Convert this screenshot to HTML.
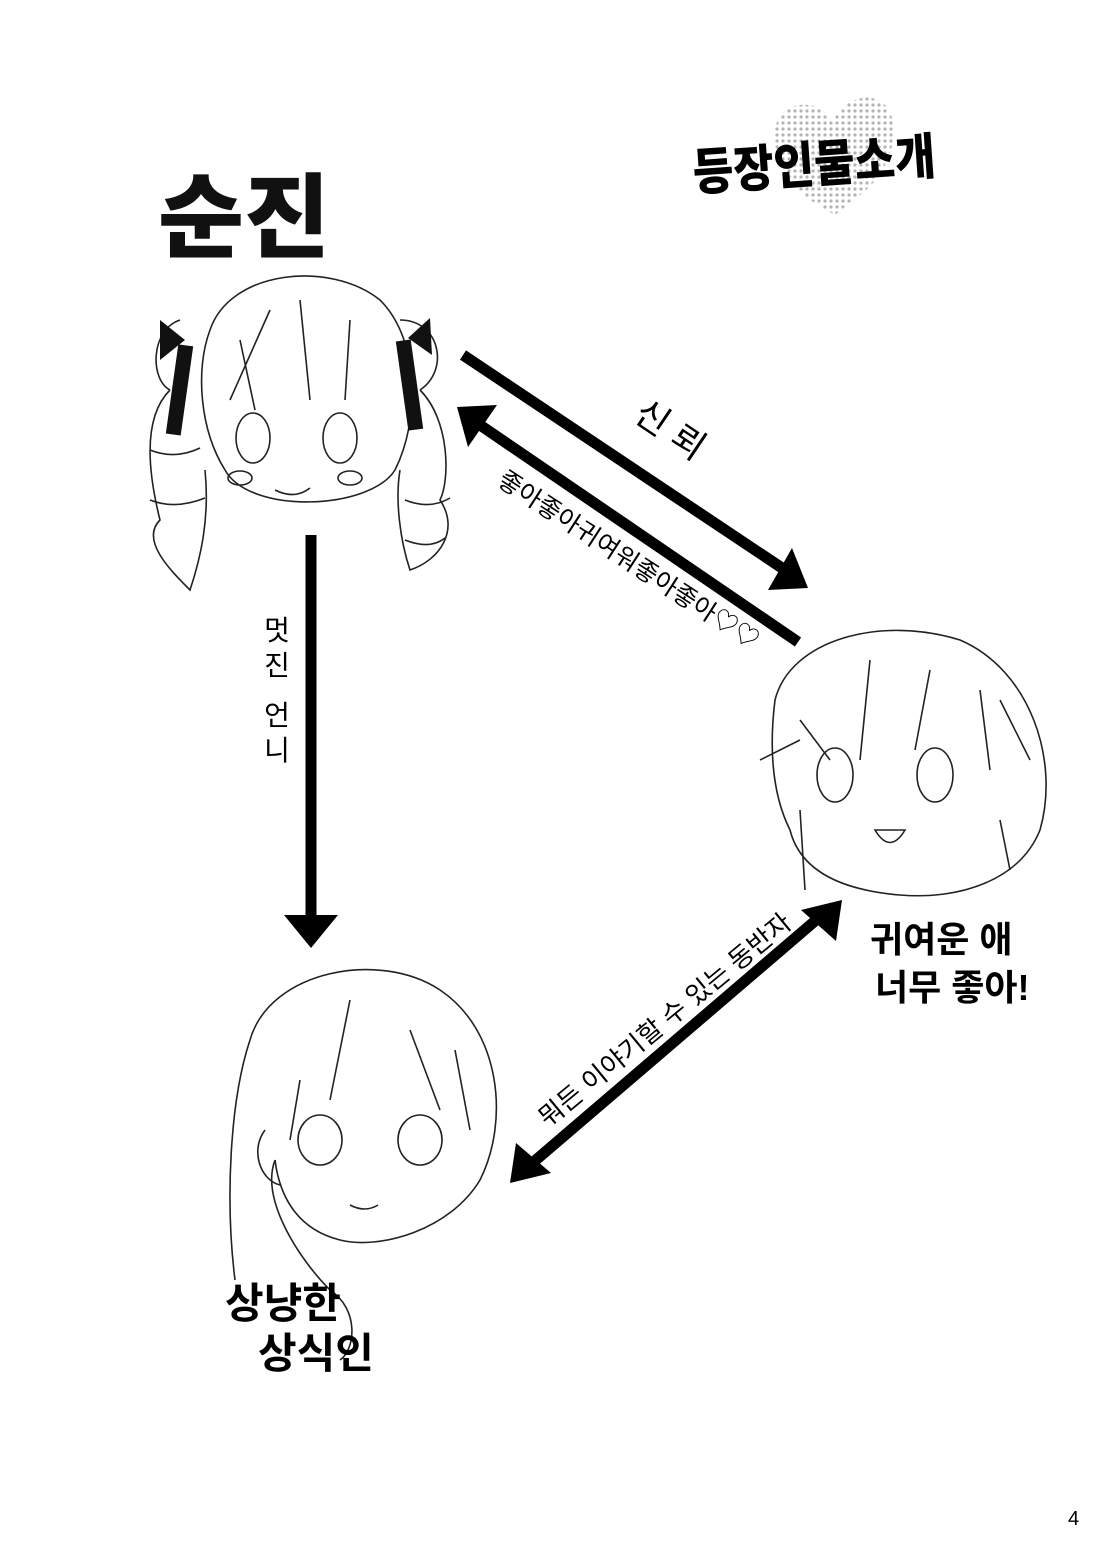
<!DOCTYPE html>
<html><head><meta charset="utf-8">
<style>
html,body{margin:0;padding:0;background:#fff;}
body{width:1110px;height:1553px;overflow:hidden;position:relative;font-family:"Liberation Sans","Noto Sans CJK KR","NanumGothic",sans-serif;}
svg{position:absolute;left:0;top:0;}
</style></head><body>
<svg width="1110" height="1553" viewBox="0 0 1110 1553" font-family="Liberation Sans,'Noto Sans CJK KR',sans-serif">
<defs>
<pattern id="dots" width="6" height="6" patternUnits="userSpaceOnUse"><circle cx="3" cy="3" r="1.6" fill="#777"/></pattern>
</defs>
<!-- heart behind title -->
<path d="M810 200 C770 170 760 110 800 105 C820 103 828 115 832 122 C838 112 850 95 872 98 C905 105 900 165 860 195 L835 215 Z" fill="url(#dots)" opacity="0.55"/>
<text x="692" y="182" font-size="50" font-weight="900" textLength="243" lengthAdjust="spacingAndGlyphs" transform="rotate(-4 815 155)">등장인물소개</text>
<text x="158" y="250" font-size="92" font-weight="900" textLength="172" lengthAdjust="spacingAndGlyphs" fill="#111">순진</text>

<!-- Head 1 (twin drills) -->
<g fill="none" stroke="#222" stroke-width="1.6">
<path d="M210 330 C230 270 330 260 380 300 C420 340 420 420 395 470 C370 510 250 515 225 470 C200 430 195 370 210 330Z"/>
<ellipse cx="253" cy="438" rx="17" ry="25"/><ellipse cx="340" cy="438" rx="17" ry="25"/>
<path d="M275 490 Q295 500 310 488"/>
<ellipse cx="240" cy="478" rx="12" ry="7"/><ellipse cx="350" cy="478" rx="12" ry="7"/>
<path d="M240 340 L255 410 M300 300 L310 400 M350 320 L345 400 M270 310 L230 400"/>
<path d="M180 320 C150 330 150 380 170 390 M400 320 C440 320 450 370 420 390"/>
<path d="M170 390 C140 420 150 480 160 520 C140 540 170 570 190 590 C200 560 210 520 205 470"/>
<path d="M420 390 C450 420 450 480 440 500 C460 530 440 560 410 570 C400 540 395 500 400 470"/>
<path d="M150 450 Q175 460 200 448 M150 500 Q175 510 205 498 M405 500 Q430 510 450 498 M405 540 Q430 550 445 538"/>
</g>
<rect x="172" y="345" width="15" height="90" fill="#111" transform="rotate(8 180 390)"/>
<rect x="402" y="340" width="15" height="90" fill="#111" transform="rotate(-8 410 385)"/>
<path d="M160 320 L185 340 L160 360 Z M430 318 L408 338 L432 355Z" fill="#111"/>

<!-- Head 2 (short hair) -->
<g fill="none" stroke="#222" stroke-width="1.6">
<path d="M775 700 C790 640 880 615 960 640 C1030 670 1060 760 1040 830 C1020 880 960 900 900 895 C840 890 800 870 790 830 C770 790 770 740 775 700Z"/>
<ellipse cx="835" cy="775" rx="18" ry="27"/><ellipse cx="935" cy="775" rx="18" ry="27"/>
<path d="M875 830 Q890 855 905 830 Z"/>
<path d="M800 720 L830 760 M870 660 L860 760 M930 670 L915 750 M980 690 L990 770 M1000 700 L1030 760 M760 760 L800 740"/>
<path d="M800 810 L805 890 M1000 820 L1010 870"/>
</g>

<!-- Head 3 (long hair) -->
<g fill="none" stroke="#222" stroke-width="1.6">
<path d="M250 1040 C270 970 380 950 440 990 C500 1030 510 1120 480 1180 C450 1230 380 1250 340 1240 C300 1230 280 1200 275 1160"/>
<path d="M250 1040 C230 1100 225 1200 235 1280 M275 1160 C260 1200 300 1260 330 1290 C360 1310 355 1350 340 1360"/>
<ellipse cx="320" cy="1140" rx="22" ry="25"/><ellipse cx="420" cy="1140" rx="22" ry="25"/>
<path d="M350 1205 Q365 1213 378 1205"/>
<path d="M300 1080 L290 1140 M350 1000 L330 1100 M410 1030 L440 1110 M455 1050 L470 1130"/>
<path d="M265 1130 C250 1150 260 1180 280 1185"/>
</g>

<!-- Arrows -->
<g fill="#000">
<line x1="463" y1="355" x2="785" y2="570" stroke="#000" stroke-width="11"/>
<polygon points="808,588 768,590 792,548"/>
<line x1="798" y1="642" x2="480" y2="425" stroke="#000" stroke-width="11"/>
<polygon points="457,407 497,405 468,447"/>
<line x1="311" y1="535" x2="311" y2="920" stroke="#000" stroke-width="11"/>
<polygon points="284,915 338,915 311,948"/>
<line x1="530" y1="1165" x2="822" y2="915" stroke="#000" stroke-width="11"/>
<polygon points="510,1183 516,1143 551,1173"/>
<polygon points="842,900 836,941 801,910"/>
</g>

<!-- Arrow labels -->
<text x="618" y="430" font-size="36" transform="rotate(34 643 447)">신 뢰</text>
<text x="0" y="0" font-size="25" textLength="305" lengthAdjust="spacingAndGlyphs" transform="translate(496 484) rotate(33)">좋아좋아귀여워좋아좋아♡♡</text>
<g font-size="28" text-anchor="middle">
<text x="277" y="640">멋</text><text x="277" y="675">진</text>
<text x="277" y="725">언</text><text x="277" y="760">니</text>
</g>
<text x="0" y="0" font-size="26" textLength="318" lengthAdjust="spacingAndGlyphs" transform="translate(548 1128) rotate(-39.5)">뭐든 이야기할 수 있는 동반자</text>

<!-- Character labels -->
<g font-weight="bold" font-size="36">
<text x="870" y="952">귀여운 애</text>
<text x="875" y="1000">너무 좋아!</text>
</g>
<g font-weight="bold" font-size="42">
<text x="225" y="1318">상냥한</text>
<text x="258" y="1368">상식인</text>
</g>
<text x="1068" y="1525" font-size="20">4</text>
</svg>
</body></html>
